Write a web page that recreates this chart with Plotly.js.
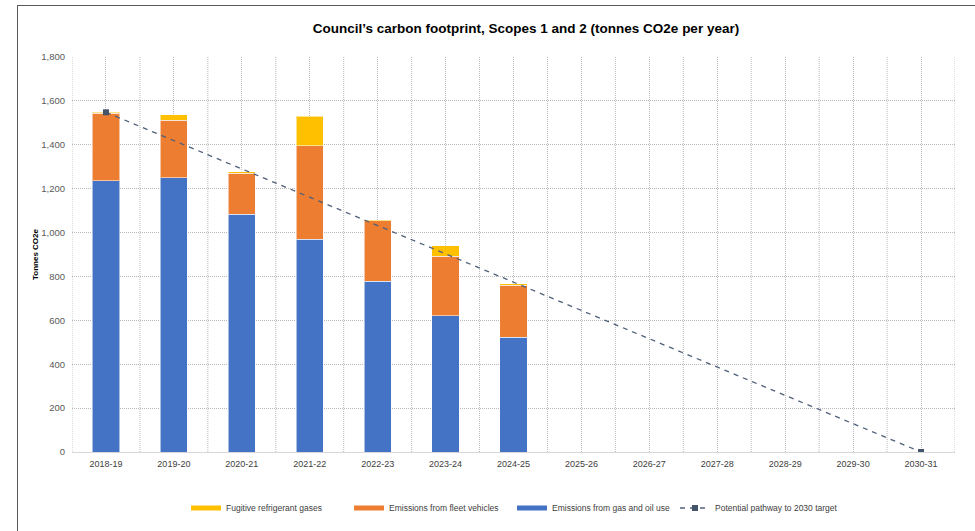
<!DOCTYPE html>
<html>
<head>
<meta charset="utf-8">
<script src="https://cdn.plot.ly/plotly-3.0.1.min.js"></script>
<style>
  html, body { margin: 0; padding: 0; background: #fff; }
  #wrap { position: relative; width: 975px; height: 531px; overflow: hidden; }
  #frame { position: absolute; left: 17px; top: 5px; width: 970px; height: 540px;
           border-left: 1.5px solid #5a5a5a; border-top: 1.5px solid #5a5a5a; pointer-events: none; z-index: 2; }
  #chart { position: absolute; left: 0; top: 0; width: 975px; height: 531px; }
</style>
</head>
<body>
<div id="wrap">
  <div id="chart"></div>
  <div id="frame"></div>
</div>
<script>
// Financial years on the category axis
const years = ['2018-19', '2019-20', '2020-21', '2021-22', '2022-23', '2023-24', '2024-25',
               '2025-26', '2026-27', '2027-28', '2028-29', '2029-30', '2030-31'];

// Measured emissions (tonnes CO2e) for the years reported so far
const reportedYears = ['2018-19', '2019-20', '2020-21', '2021-22', '2022-23', '2023-24', '2024-25'];
const gasAndOil   = [1236, 1250, 1084, 970, 777, 621, 524];
const fleet       = [308, 262, 187, 425, 276, 270, 235];
const refrigerant = [5, 24, 6, 134, 2, 49, 8];

// Pathway from the baseline year down to zero in 2030-31
const pathwayYears  = ['2018-19', '2030-31'];
const pathwayValues = [1548, 0];

const yTicks = [0, 200, 400, 600, 800, 1000, 1200, 1400, 1600, 1800];
const yTickText = ['0', '200', '400', '600', '800', '1,000', '1,200', '1,400', '1,600', '1,800'];

const FONT = 'Liberation Sans, Arial, sans-serif';
const GRID = 'rgb(185,185,185)';
const GRID_DASH = '1px,1px';
const barEdge = { color: 'rgba(255,255,255,0.55)', width: 1 };

const series = [
  { name: 'Emissions from gas and oil use', values: gasAndOil, color: '#4472C4', rank: 3 },
  { name: 'Emissions from fleet vehicles', values: fleet, color: '#ED7D31', rank: 2 },
  { name: 'Fugitive refrigerant gases', values: refrigerant, color: '#FFC000', rank: 1 }
];

const traces = [];
// Stacked bars, bottom segment first
series.forEach(s => {
  traces.push({ type: 'bar', name: s.name, x: reportedYears, y: s.values, legendgroup: s.name,
                showlegend: false, marker: { color: s.color, line: barEdge } });
});
// Legend keys drawn as short wide swatches
series.forEach(s => {
  traces.push({ type: 'scatter', mode: 'lines', name: s.name, x: [null], y: [null],
                legendgroup: s.name, legendrank: s.rank,
                line: { color: s.color, width: 5 } });
});
traces.push({ type: 'scatter', mode: 'lines+markers', name: 'Potential pathway to 2030 target',
  x: pathwayYears, y: pathwayValues, legendrank: 4,
  line: { color: '#50607A', width: 1.3, dash: '5px,5px' },
  marker: { symbol: 'square', size: 6, color: '#44546A' } });

// Dotted separators between categories (the axis grid handles category centres)
const shapes = [];
for (let i = 0; i <= years.length; i++) {
  shapes.push({ type: 'line', xref: 'x', yref: 'paper', x0: i - 0.5, x1: i - 0.5, y0: 0, y1: 1,
                line: { color: GRID, width: 1, dash: GRID_DASH }, layer: 'below' });
}

const layout = {
  width: 975, height: 531,
  margin: { l: 72, r: 20, t: 57, b: 79 },
  paper_bgcolor: '#fff', plot_bgcolor: '#fff',
  font: { family: FONT, color: '#595959' },
  title: { text: "Council’s carbon footprint, Scopes 1 and 2 (tonnes CO2e per year)",
           font: { family: FONT, size: 13.5, color: '#000', weight: 'bold' },
           x: 526 / 975, xanchor: 'center', yref: 'container', y: 1 - 28 / 531, yanchor: 'middle' },
  barmode: 'stack', bargap: 0.6,
  showlegend: true,
  legend: { orientation: 'h', x: (512 - 72) / 883, xanchor: 'center',
            yref: 'container', y: 1 - 508 / 531, yanchor: 'middle',
            entrywidth: 118, entrywidthmode: 'pixels', itemwidth: 30,
            font: { family: FONT, size: 8.5, color: '#404040' }, traceorder: 'normal' },
  xaxis: { type: 'category', categoryorder: 'array', categoryarray: years,
           range: [-0.5, years.length - 0.5], automargin: false,
           showgrid: true, gridcolor: GRID, griddash: GRID_DASH, gridwidth: 1,
           showline: true, linecolor: 'rgb(215,215,215)', linewidth: 1,
           ticks: '', ticklabelstandoff: 3,
           tickfont: { family: FONT, size: 9, color: '#404040' },
           fixedrange: true },
  yaxis: { range: [0, 1800], tickmode: 'array', tickvals: yTicks, ticktext: yTickText,
           automargin: false,
           showgrid: true, gridcolor: GRID, griddash: GRID_DASH, gridwidth: 1,
           zeroline: false, showline: false, ticks: '', ticklabelstandoff: 6,
           tickfont: { family: FONT, size: 9.5, color: '#595959' },
           title: { text: 'Tonnes CO2e', font: { family: FONT, size: 8, color: '#000', weight: 'bold' }, standoff: 1 },
           fixedrange: true },
  shapes: shapes,
  hovermode: false
};

Plotly.newPlot('chart', traces, layout, { displayModeBar: false, staticPlot: true });
</script>
</body>
</html>
